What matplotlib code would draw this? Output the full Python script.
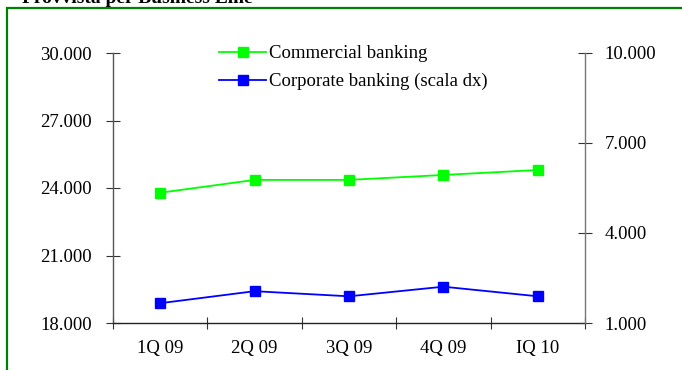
import matplotlib
matplotlib.use("Agg")
import matplotlib.pyplot as plt
from matplotlib.patches import Rectangle

# data (migliaia)
quarters = ["1Q 09", "2Q 09", "3Q 09", "4Q 09", "IQ 10"]
commercial = [23790, 24360, 24360, 24580, 24800]
corporate = [1660, 2060, 1890, 2210, 1890]
left_ticks = [18000, 21000, 24000, 27000, 30000]
right_ticks = [1000, 4000, 7000, 10000]

plt.rcParams['font.family'] = ['Liberation Serif', 'DejaVu Serif']

W, H = 682, 370
fig = plt.figure(figsize=(W / 100, H / 100), dpi=100)

# green frame round the chart
fig.patches.append(Rectangle((7 / W, -0.05), 1.1, 1 - 8 / H + 0.05, transform=fig.transFigure,
                             fill=False, edgecolor='#008000', linewidth=1.6))
fig.text(22 / W, 1 - 3 / H, "Provvista per Business Line", fontsize=14, fontweight='bold',
         va='baseline', ha='left')

ax = fig.add_axes([113 / W, 1 - 323 / H, (585 - 113) / W, (323 - 53) / H])
ax2 = ax.twinx()

x = list(range(len(quarters)))
l1, = ax.plot(x, commercial, color='#00ff00', marker='s', markersize=7, lw=1.3,
              markeredgecolor='#00ff00', label="Commercial banking")
l2, = ax2.plot(x, corporate, color='#0000ff', marker='s', markersize=7, lw=1.3,
               markeredgecolor='#0000ff', label="Corporate banking (scala dx)")

ax.set_xlim(-0.5, len(quarters) - 0.5)
ax.set_ylim(18000, 30000)
ax2.set_ylim(1000, 10000)


def fmt(v):
    return "{:,}".format(v).replace(",", ".")


ax.set_yticks(left_ticks)
ax.set_yticklabels([fmt(v) for v in left_ticks])
ax2.set_yticks(right_ticks)
ax2.set_yticklabels([fmt(v) for v in right_ticks])

ax.set_xticks([i - 0.5 for i in range(len(quarters) + 1)])
ax.set_xticklabels([])
ax.set_xticks(x, minor=True)
ax.set_xticklabels(quarters, minor=True)
ax.tick_params(axis='x', which='minor', length=0, pad=12, labelsize=13.5)
ax.tick_params(axis='x', which='major', direction='inout', length=9, width=0.8, color='#333333')
ax.tick_params(axis='y', direction='inout', length=10, width=0.8, color='#333333', pad=10, labelsize=13.5)
ax2.tick_params(axis='y', direction='inout', length=10, width=0.8, color='#333333', pad=9, labelsize=13.5)

for a in (ax, ax2):
    a.spines['top'].set_visible(False)
    a.patch.set_visible(False)
ax.spines['right'].set_visible(False)
ax2.spines['left'].set_visible(False)
ax2.spines['bottom'].set_visible(False)
ax.spines['left'].set_color('#555555')
ax.spines['bottom'].set_color('#222222')
ax2.spines['right'].set_color('#777777')
for s in ('left', 'bottom'):
    ax.spines[s].set_linewidth(1.0)
ax2.spines['right'].set_linewidth(1.0)

fig.legend([l1, l2], [l1.get_label(), l2.get_label()], loc='upper left',
           bbox_to_anchor=(210 / W, 1 - 36 / H), frameon=False, fontsize=13.5,
           handlelength=2.5, handletextpad=0.15, labelspacing=0.55, borderpad=0)

fig.savefig("out.png", dpi=100)
